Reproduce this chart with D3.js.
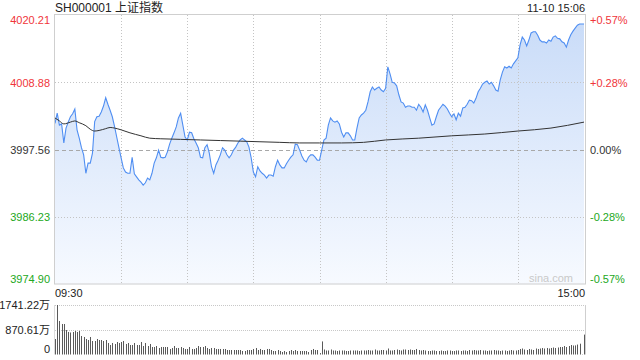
<!DOCTYPE html>
<html>
<head>
<meta charset="utf-8">
<script src="https://cdn.jsdelivr.net/npm/d3@7"></script>
<style>
  body { margin: 0; background: #fff; }
  svg { display: block; font-family: Arial, "Liberation Sans", "Noto Sans CJK SC", sans-serif; }
</style>
</head>
<body>
<div id="vis"></div>
<script>
// ---- data ----
const title = "SH000001 上证指数";
const stamp = "11-10 15:06";
const timeLabels = ["09:30", "15:00"];
const priceTicks = [3974.90, 3986.23, 3997.56, 4008.88, 4020.21];
const pctLabels = ["-0.57%", "-0.28%", "0.00%", "+0.28%", "+0.57%"];
const volTicks = [0, 870.61, 1741.22];

// one value per minute, 09:30 .. 15:00 (241 points)
const price = [
  4002.0, 4003.7, 4001.7, 4001.9, 3998.7, 4001.2, 4002.2, 4003.1, 4003.6, 4004.4,
  4000.9, 3999.5, 3997.9, 3996.7, 3993.6, 3995.3, 3995.3, 3997.0, 4002.3, 4003.1,
  4003.2, 4003.9, 4004.9, 4006.3, 4005.2, 4004.2, 4003.1, 4001.5, 3999.7, 3997.9,
  3996.2, 3994.5, 3993.8, 3993.6, 3993.6, 3996.3, 3993.5, 3993.0, 3992.5, 3992.1,
  3991.6, 3992.0, 3992.8, 3992.5, 3993.6, 3995.3, 3996.2, 3997.5, 3996.3, 3996.2,
  3996.3, 3997.2, 3998.5, 3999.5, 4000.4, 4001.4, 4002.9, 4003.7, 4001.7, 3999.7,
  3999.2, 4000.5, 4000.4, 3999.4, 3998.7, 3997.9, 3996.3, 3996.2, 3997.9, 3998.4,
  3997.0, 3994.7, 3993.6, 3995.0, 3995.8, 3996.7, 3997.9, 3997.5, 3996.7, 3996.2,
  3996.7, 3997.5, 3998.0, 3998.7, 3999.2, 3999.5, 3999.2, 3998.9, 3998.0, 3996.2,
  3993.8, 3993.0, 3994.7, 3994.0, 3993.6, 3993.3, 3992.8, 3993.3, 3993.3, 3993.1,
  3994.7, 3995.8, 3995.0, 3994.5, 3994.5, 3995.2, 3995.8, 3996.3, 3996.7, 3998.5,
  3998.4, 3997.5, 3996.5, 3995.8, 3995.5, 3996.3, 3996.7, 3996.7, 3996.3, 3995.8,
  3995.8, 3997.5, 3999.2, 3999.5, 4001.7, 4002.9, 4002.4, 4002.2, 4002.4, 4001.9,
  4000.5, 3999.7, 4000.4, 4000.4, 3999.9, 3999.2, 3999.2, 4001.2, 4002.9, 4003.4,
  4003.7, 4004.2, 4005.6, 4007.3, 4008.1, 4007.6, 4007.9, 4008.1, 4007.6, 4007.3,
  4007.9, 4011.5, 4010.3, 4008.9, 4008.8, 4008.3, 4006.8, 4005.6, 4005.4, 4004.7,
  4004.9, 4004.9, 4004.7, 4004.7, 4004.2, 4005.2, 4004.7, 4003.9, 4005.1, 4004.2,
  4002.9, 4001.7, 4001.9, 4003.1, 4004.2, 4004.7, 4005.2, 4004.9, 4004.4, 4003.7,
  4003.1, 4003.6, 4002.6, 4003.7, 4003.2, 4004.6, 4004.7, 4005.2, 4005.9, 4005.8,
  4005.4, 4006.2, 4007.3, 4007.9, 4008.6, 4008.9, 4009.1, 4008.6, 4008.9, 4008.3,
  4007.6, 4007.4, 4009.3, 4010.6, 4011.5, 4011.3, 4011.6, 4011.3, 4012.0, 4012.5,
  4013.0, 4015.2, 4016.5, 4016.0, 4015.0, 4016.0, 4017.2, 4017.4, 4017.4, 4016.8,
  4016.0, 4015.7, 4015.7, 4015.5, 4016.0, 4015.8, 4016.5, 4016.7, 4016.3, 4016.2,
  4015.7, 4015.5, 4014.8, 4016.0, 4016.9, 4017.5, 4018.0, 4018.5, 4018.7, 4018.7, 4018.7
];

// average price line, sampled at these minutes
const avgMin = [0, 2, 4, 7, 9, 11, 14, 16, 18, 20, 23, 25, 27, 30, 34, 39, 43, 48, 57, 66,
  75, 84, 93, 102, 111, 120, 130, 140, 150, 165, 180, 195, 210, 225, 240];
const avgPrice = [4002.9, 4002.4, 4001.9, 4002.2, 4002.4, 4002.1, 4001.6, 4001.0, 4000.7, 4000.8,
  4001.1, 4001.3, 4001.2, 4000.9, 4000.4, 3999.9, 3999.5, 3999.4, 3999.3, 3999.2,
  3999.1, 3999.0, 3998.9, 3998.8, 3998.7, 3998.7, 3998.7, 3998.8, 3999.2, 3999.5,
  3999.9, 4000.2, 4000.7, 4001.2, 4002.2];

// volume per minute, in 万
const volume = [
  545, 1741.22, 1179, 1073, 1073, 862, 792, 774, 792, 827,
  792, 827, 651, 616, 545, 510, 616, 475, 475, 545,
  510, 510, 475, 510, 405, 334, 405, 370, 440, 405,
  440, 475, 370, 405, 334, 334, 405, 334, 334, 440,
  299, 405, 299, 370, 264, 264, 299, 229, 264, 264,
  264, 264, 194, 229, 299, 229, 229, 264, 229, 194,
  194, 264, 194, 194, 229, 299, 264, 264, 299, 229,
  194, 229, 229, 194, 194, 194, 194, 194, 158, 158,
  158, 158, 158, 158, 158, 123, 123, 158, 158, 158,
  194, 229, 158, 194, 158, 158, 194, 194, 158, 123,
  123, 158, 123, 88, 123, 88, 123, 158, 123, 158,
  123, 123, 123, 123, 123, 88, 158, 194, 158, 158,
  50, 460, 176, 141, 141, 176, 141, 141, 123, 141,
  141, 141, 123, 123, 141, 141, 141, 141, 123, 141,
  141, 141, 158, 141, 141, 176, 141, 141, 158, 158,
  141, 211, 141, 141, 158, 176, 158, 141, 176, 176,
  158, 176, 158, 158, 194, 158, 141, 158, 141, 123,
  123, 141, 141, 123, 123, 141, 123, 123, 141, 141,
  123, 123, 141, 141, 123, 141, 141, 123, 158, 141,
  158, 141, 141, 158, 141, 141, 123, 141, 141, 158,
  141, 141, 123, 141, 141, 123, 141, 158, 141, 141,
  158, 194, 211, 176, 158, 194, 176, 158, 211, 194,
  211, 229, 211, 229, 211, 229, 246, 229, 246, 264,
  264, 299, 264, 299, 334, 316, 320, 350, 380, 10, 700
];

// ---- layout ----
const FRAME_WIDTH = 640;
const FRAME_HEIGHT = 360;
const PLOT = {left: 55, right: 585, top: 15, bottom: 284.5};
const VOL = {top: 305, bottom: 354.5};
const FONT = 'Arial, "Liberation Sans", "Noto Sans CJK SC", sans-serif';
const RED = "#f0353a";
const GREEN = "#22a822";

const FRAME = d3.select("#vis")
  .append("svg")
    .attr("width", FRAME_WIDTH)
    .attr("height", FRAME_HEIGHT);

const xScale = d3.scaleLinear()
  .domain([0, 240])
  .range([PLOT.left, PLOT.right - 1]);

const yScale = d3.scaleLinear()
  .domain([priceTicks[0], priceTicks[priceTicks.length - 1]])
  .range([PLOT.bottom, PLOT.top]);

const vScale = d3.scaleLinear()
  .domain([0, volTicks[2]])
  .range([VOL.bottom, VOL.top]);

// gradient fill under the price line
const grad = FRAME.append("defs").append("linearGradient")
  .attr("id", "fillGrad")
  .attr("gradientUnits", "userSpaceOnUse")
  .attr("x1", 0).attr("x2", 0)
  .attr("y1", PLOT.top).attr("y2", PLOT.bottom);
grad.append("stop").attr("offset", "0%").attr("stop-color", "#c8dbf8");
grad.append("stop").attr("offset", "100%").attr("stop-color", "#f7faff");

// area first, so the grid shows through it
FRAME.append("path")
  .datum(price)
  .attr("fill", "url(#fillGrad)")
  .attr("d", d3.area()
    .x((d, i) => xScale(i))
    .y0(PLOT.bottom)
    .y1(d => yScale(d)));

// vertical grid every 30 minutes
const gridMins = d3.range(30, 240, 30);
FRAME.append("g")
  .selectAll("line")
  .data(gridMins)
  .enter()
  .append("line")
    .attr("x1", d => Math.round(xScale(d)) + 0.5)
    .attr("x2", d => Math.round(xScale(d)) + 0.5)
    .attr("y1", PLOT.top)
    .attr("y2", PLOT.bottom)
    .attr("stroke", "#c4c4c4")
    .attr("stroke-dasharray", "1,2");

// horizontal grid
FRAME.append("g")
  .selectAll("line")
  .data(priceTicks.slice(1, 4))
  .enter()
  .append("line")
    .attr("x1", PLOT.left)
    .attr("x2", PLOT.right)
    .attr("y1", d => Math.round(yScale(d)) + 0.5)
    .attr("y2", d => Math.round(yScale(d)) + 0.5)
    .attr("stroke", (d, i) => i == 1 ? "#a8a8a8" : "#c4c4c4")
    .attr("stroke-dasharray", (d, i) => i == 1 ? "4,3" : "1,2");

// price line
FRAME.append("path")
  .datum(price)
  .attr("fill", "none")
  .attr("stroke", "#4f8ef2")
  .attr("stroke-width", 1.1)
  .attr("d", d3.line()
    .x((d, i) => xScale(i))
    .y(d => yScale(d)));

// average line
FRAME.append("path")
  .datum(avgMin.map((m, i) => [m, avgPrice[i]]))
  .attr("fill", "none")
  .attr("stroke", "#333")
  .attr("stroke-width", 1)
  .attr("d", d3.line()
    .curve(d3.curveMonotoneX)
    .x(d => xScale(d[0]))
    .y(d => yScale(d[1])));

// chart frame
FRAME.append("rect")
  .attr("x", PLOT.left - 0.5)
  .attr("y", PLOT.top - 0.5)
  .attr("width", PLOT.right - PLOT.left + 1)
  .attr("height", PLOT.bottom - PLOT.top)
  .attr("fill", "none")
  .attr("stroke", "#cfcfcf");

// left price labels
const colorOf = (i) => i < 2 ? GREEN : (i == 2 ? "#333" : RED);
const leftAxis = FRAME.append("g")
  .attr("transform", "translate(" + (PLOT.left - 5) + ",0)")
  .call(d3.axisLeft(yScale).tickValues(priceTicks).tickSize(0).tickPadding(0)
    .tickFormat(d3.format(".2f")));
leftAxis.select(".domain").remove();
leftAxis.selectAll("text")
  .attr("font-family", FONT)
  .attr("font-size", 11)
  .attr("fill", (d, i) => colorOf(i))
  .attr("dy", (d, i) => i == 0 ? "-0.2em" : (i == 4 ? "0.8em" : "0.35em"));

// right percent labels
const rightAxis = FRAME.append("g")
  .attr("transform", "translate(" + (PLOT.right + 5) + ",0)")
  .call(d3.axisRight(yScale).tickValues(priceTicks).tickSize(0).tickPadding(0)
    .tickFormat((d, i) => pctLabels[i]));
rightAxis.select(".domain").remove();
rightAxis.selectAll("text")
  .attr("font-family", FONT)
  .attr("font-size", 11)
  .attr("fill", (d, i) => colorOf(i))
  .attr("dy", (d, i) => i == 0 ? "-0.2em" : (i == 4 ? "0.8em" : "0.35em"));

// titles
FRAME.append("text")
  .attr("x", PLOT.left)
  .attr("y", 12)
  .attr("font-size", 12)
  .attr("fill", "#222")
  .text(title);

FRAME.append("text")
  .attr("x", PLOT.right)
  .attr("y", 12)
  .attr("text-anchor", "end")
  .attr("font-size", 11)
  .attr("fill", "#222")
  .text(stamp);

FRAME.append("text")
  .attr("x", 573)
  .attr("y", 282)
  .attr("text-anchor", "end")
  .attr("font-size", 11)
  .attr("fill", "#c9c9c9")
  .text("sina.com");

// time labels
FRAME.append("g")
  .selectAll("text")
  .data(timeLabels)
  .enter()
  .append("text")
    .attr("x", (d, i) => xScale(i * 240) + (i == 0 ? 0 : 1))
    .attr("y", 297)
    .attr("text-anchor", (d, i) => i == 0 ? "start" : "end")
    .attr("font-size", 11)
    .attr("fill", "#222")
    .text(d => d);

// volume grid
FRAME.append("g")
  .selectAll("line")
  .data(volTicks.slice(1))
  .enter()
  .append("line")
    .attr("x1", PLOT.left)
    .attr("x2", PLOT.right)
    .attr("y1", d => Math.round(vScale(d)) + 0.5)
    .attr("y2", d => Math.round(vScale(d)) + 0.5)
    .attr("stroke", "#c8c8c8")
    .attr("stroke-dasharray", "1,1");

FRAME.append("line")
  .attr("x1", PLOT.left - 0.5).attr("x2", PLOT.left - 0.5)
  .attr("y1", VOL.top).attr("y2", VOL.bottom)
  .attr("stroke", "#dcdcdc");
FRAME.append("line")
  .attr("x1", PLOT.right + 0.5).attr("x2", PLOT.right + 0.5)
  .attr("y1", VOL.top).attr("y2", VOL.bottom)
  .attr("stroke", "#cfcfcf");

// volume bars
FRAME.append("g")
  .selectAll("rect")
  .data(volume)
  .enter()
  .append("rect")
    .attr("x", (d, i) => Math.round(xScale(i)))
    .attr("y", d => vScale(d))
    .attr("width", 1)
    .attr("height", d => VOL.bottom - vScale(d))
    .attr("fill", "#5a5a5a");

// volume labels
const volAxis = FRAME.append("g")
  .attr("transform", "translate(" + (PLOT.left - 5) + ",0)")
  .call(d3.axisLeft(vScale).tickValues(volTicks).tickSize(0).tickPadding(0)
    .tickFormat(d => d == 0 ? "0" : d.toFixed(2) + "万"));
volAxis.select(".domain").remove();
volAxis.selectAll("text")
  .attr("font-family", FONT)
  .attr("font-size", 11)
  .attr("fill", "#222")
  .attr("dy", (d, i) => i == 0 ? "-0.2em" : "0.35em");
</script>
</body>
</html>
